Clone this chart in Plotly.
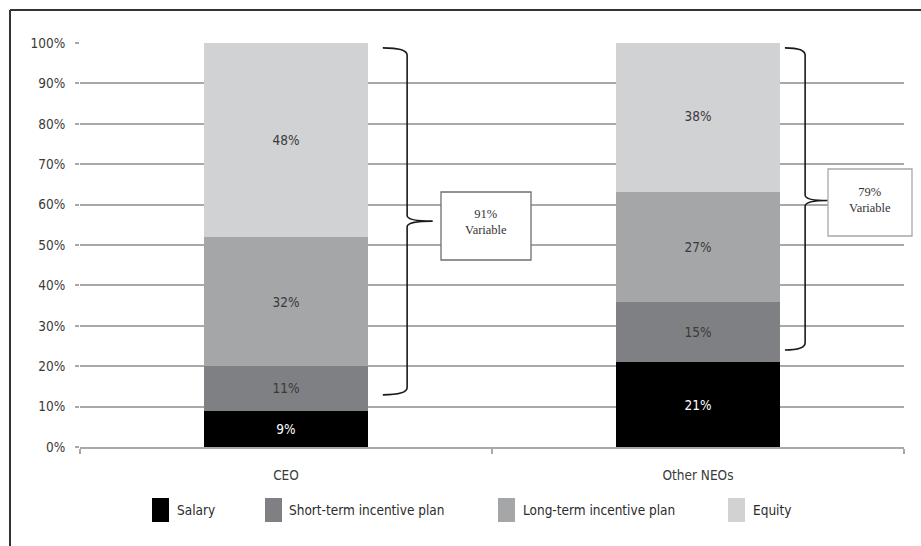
import plotly.graph_objects as go

# ---- data -------------------------------------------------------------
groups = ["CEO", "Other NEOs"]
components = ["Salary", "Short-term incentive plan", "Long-term incentive plan", "Equity"]
salary = [9, 21]
short_term = [11, 15]
long_term = [32, 27]
equity = [48, 38]
variable_share = [91, 79]          # boxed call-outs
brace_spans = [(12.9, 98.8), (24.0, 98.8)]   # bottom / top of each brace (%)
brace_mid = [55.9, 61.0]
y_ticks = list(range(0, 101, 10))

series = [salary, short_term, long_term, equity]
colors = ["#000000", "#7f8083", "#a4a6a8", "#d1d2d4"]
text_colors = ["#ffffff", "#3a3a3a", "#3a3a3a", "#3a3a3a"]

SANS = "Liberation Sans Narrow, Arial Narrow, DejaVu Sans Condensed, sans-serif"
SERIF = "Liberation Serif, Times New Roman, serif"
FS = 13.5

W, H = 921, 546
ML, MR, MT, MB = 80, 17, 43, 99
PW, PH = W - ML - MR, H - MT - MB
XMIN, XMAX = -0.5, 1.5


def px_x(px):
    return (px - ML) / PW


def px_y(py):
    return (H - MB - py) / PH


def ux(u):
    return (u - XMIN) / (XMAX - XMIN)


def uy(v):
    return v / 100.0


fig = go.Figure()
for name, vals, col, tcol in zip(components, series, colors, text_colors):
    fig.add_trace(go.Bar(
        x=groups, y=vals, name=name,
        marker=dict(color=col, line=dict(width=0)),
        width=0.4,
        texttemplate="%{y}%",
        textposition="inside",
        insidetextanchor="middle",
        textfont=dict(family=SANS, size=FS, color=tcol),
        showlegend=False,
    ))

shapes = []
annotations = []

# outer frame (top and left edges)
shapes.append(dict(type="line", xref="paper", yref="paper",
                   x0=px_x(10), y0=px_y(10), x1=px_x(925), y1=px_y(10),
                   line=dict(color="#333333", width=2)))
shapes.append(dict(type="line", xref="paper", yref="paper",
                   x0=px_x(10), y0=px_y(10), x1=px_x(10), y1=px_y(550),
                   line=dict(color="#333333", width=2)))


def brace_path(u_end, u_vert, u_tip, y_bot, y_top, y_mid):
    xe, xv, xt = ux(u_end), ux(u_vert), ux(u_tip)
    yt, yb, ym = uy(y_top), uy(y_bot), uy(y_mid)
    d = 0.018
    m = 0.014
    return (f"M{xe},{yt} Q{xv},{yt} {xv},{yt - d} "
            f"L{xv},{ym + m} Q{xv},{ym} {xt},{ym} "
            f"Q{xv},{ym} {xv},{ym - m} "
            f"L{xv},{yb + d} Q{xv},{yb} {xe},{yb}")


brace_x = [(0.235, 0.294, 0.356), (1.211, 1.260, 1.315)]
for (ue, uv, ut), (yb, yt), ym in zip(brace_x, brace_spans, brace_mid):
    shapes.append(dict(type="path", xref="paper", yref="paper",
                       path=brace_path(ue, uv, ut, yb, yt, ym),
                       line=dict(color="#1a1a1a", width=1.6)))

# call-out boxes
boxes = [(441, 531, 192, 260, "#6f6f6f", 222), (828, 912, 169, 236, "#a8a8a8", 200)]
for (x0, x1, y0, y1, bc, ty), share in zip(boxes, variable_share):
    shapes.append(dict(type="rect", xref="paper", yref="paper",
                       x0=px_x(x0), x1=px_x(x1), y0=px_y(y0), y1=px_y(y1),
                       line=dict(color=bc, width=1.3), fillcolor="#ffffff"))
    annotations.append(dict(xref="paper", yref="paper",
                            x=px_x((x0 + x1) / 2), y=px_y(ty),
                            xanchor="center", yanchor="middle",
                            text=f"{share}%<br>Variable", showarrow=False,
                            font=dict(family=SERIF, size=12.5, color="#333333"),
                            align="center"))

# legend drawn as swatches and labels beneath the axis
leg_sw = [152, 265, 498, 728]
leg_tx = [175, 287, 521, 751]
for sx, tx, name, col in zip(leg_sw, leg_tx, components, colors):
    shapes.append(dict(type="rect", xref="paper", yref="paper",
                       x0=px_x(sx), x1=px_x(sx + 17), y0=px_y(498), y1=px_y(522),
                       line=dict(width=0), fillcolor=col))
    annotations.append(dict(xref="paper", yref="paper", x=px_x(tx), y=px_y(510),
                            xanchor="left", yanchor="middle", text=name,
                            showarrow=False,
                            font=dict(family=SANS, size=FS, color="#2b2b2b")))

fig.update_layout(
    width=W, height=H,
    margin=dict(l=ML, r=MR, t=MT, b=MB, pad=0),
    paper_bgcolor="#ffffff", plot_bgcolor="#ffffff",
    barmode="stack",
    bargap=0.6,
    shapes=shapes,
    annotations=annotations,
    font=dict(family=SANS, size=FS, color="#3a3a3a"),
    xaxis=dict(
        range=[XMIN, XMAX], showgrid=False,
        showline=True, linecolor="#a8a8a8", linewidth=2,
        ticks="outside", tickson="boundaries", ticklen=5,
        tickcolor="#a8a8a8", tickwidth=1.5,
        ticklabelstandoff=15,
        tickfont=dict(family=SANS, size=FS, color="#3a3a3a"),
        fixedrange=True,
    ),
    yaxis=dict(
        range=[0, 100], tickvals=y_ticks,
        ticktext=[f"{v}%" for v in y_ticks],
        showgrid=True, gridcolor="#a8a8a8", gridwidth=1.8,
        zeroline=False, showline=False,
        ticks="outside", ticklen=4, tickcolor="#a8a8a8", tickwidth=1.5,
        ticklabelstandoff=7,
        tickfont=dict(family=SANS, size=FS, color="#3a3a3a"),
        fixedrange=True,
    ),
)

fig.write_html("out.html")
